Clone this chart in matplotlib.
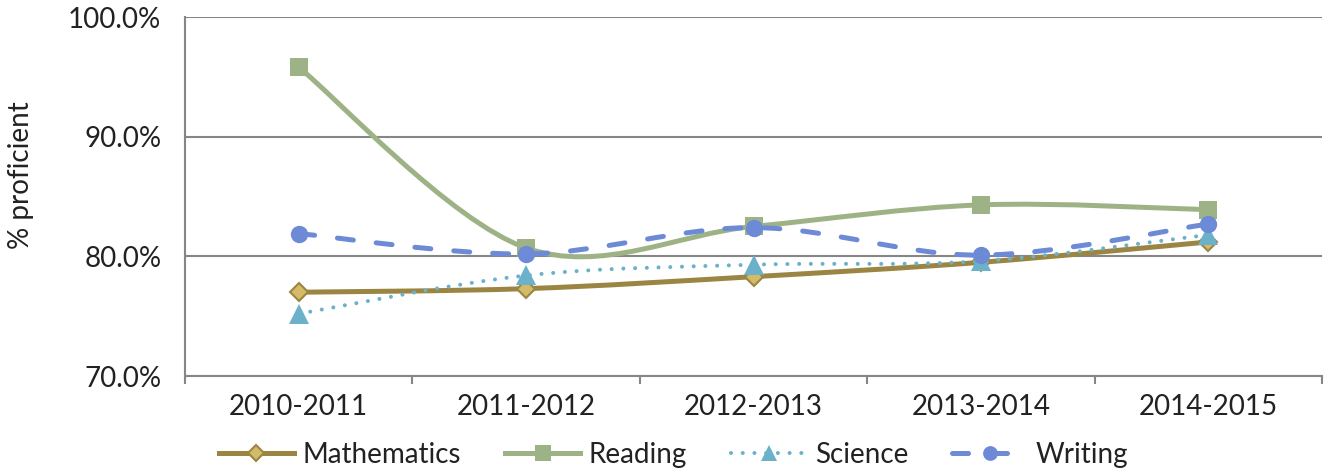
import matplotlib.pyplot as plt
from matplotlib.path import Path
from matplotlib.patches import PathPatch
from matplotlib.lines import Line2D
from matplotlib.ticker import FuncFormatter, FixedLocator

plt.rcParams['font.family'] = ['Lato', 'DejaVu Sans']

# data
years = ["2010-2011", "2011-2012", "2012-2013", "2013-2014", "2014-2015"]
mathematics = [77.0, 77.3, 78.3, 79.5, 81.2]
reading = [95.8, 80.7, 82.5, 84.3, 83.9]
science = [75.2, 78.4, 79.3, 79.6, 81.8]
writing = [81.9, 80.2, 82.4, 80.1, 82.7]


def smooth_path(ys):
    # Excel-like smoothed line: cubic bezier through points (catmull-rom tangents)
    xs = list(range(len(ys)))
    verts = [(xs[0], ys[0])]
    codes = [Path.MOVETO]
    n = len(ys)
    for i in range(n - 1):
        p0 = (xs[max(i - 1, 0)], ys[max(i - 1, 0)])
        p1 = (xs[i], ys[i])
        p2 = (xs[i + 1], ys[i + 1])
        p3 = (xs[min(i + 2, n - 1)], ys[min(i + 2, n - 1)])
        c1 = (p1[0] + (p2[0] - p0[0]) / 6, p1[1] + (p2[1] - p0[1]) / 6)
        c2 = (p2[0] - (p3[0] - p1[0]) / 6, p2[1] - (p3[1] - p1[1]) / 6)
        verts += [c1, c2, p2]
        codes += [Path.CURVE4] * 3
    return Path(verts, codes)


series = [
    ("Mathematics", mathematics, "#9b8542", "-", "D", 9, "#d4bb68", "#9b8542", 1.5),
    ("Reading", reading, "#9db386", "-", "s", 13, "#9db386", "#9db386", 0),
    ("Science", science, "#6bb1ca", (0, (0.01, 2.9)), "^", 14, "#6bb1ca", "#6bb1ca", 0),
    ("Writing", writing, "#6c8ad6", (0, (3.2, 4.6)), "o", 12.5, "#6c8ad6", "#6c8ad6", 0),
]

fig = plt.figure(figsize=(13.26, 4.74), dpi=100)
ax = fig.add_axes([185 / 1326, 98 / 474, 1137 / 1326, 359 / 474])

handles = []
for k, (name, vals, col, ls, mk, ms, mfc, mec, mew) in enumerate(series):
    lw = 2.9 if name == "Science" else 3.6
    patch = PathPatch(smooth_path(vals), fill=False, edgecolor=col, lw=lw,
                      linestyle=ls, capstyle='round', zorder=3 + k)
    ax.add_patch(patch)
    ax.plot(range(len(vals)), vals, linestyle='none', marker=mk, ms=ms,
            mfc=mfc, mec=mec, mew=mew, zorder=3 + k + 0.5)
    handles.append(Line2D([], [], color=col, lw=lw, linestyle=ls,
                          dash_capstyle='round', marker=mk, ms=ms * 0.85,
                          mfc=mfc, mec=mec, mew=mew, label=name))

ax.set_xlim(-0.5, 4.5)
ax.set_ylim(70, 100)
ax.set_yticks([70, 80, 90, 100])
ax.yaxis.set_major_formatter(FuncFormatter(lambda v, p: f"{v:.1f}%"))
ax.grid(axis='y', color='#868686', lw=1.5)
ax.set_axisbelow(True)

ax.xaxis.set_major_locator(FixedLocator([-0.5, 0.5, 1.5, 2.5, 3.5, 4.5]))
ax.xaxis.set_major_formatter(FuncFormatter(lambda v, p: ""))
ax.xaxis.set_minor_locator(FixedLocator(range(len(years))))
ax.set_xticks(range(len(years)), years, minor=True)
ax.tick_params(axis='x', which='major', length=6, width=1.5, color='#868686')
ax.tick_params(axis='x', which='minor', length=0, pad=13, labelsize=20, labelcolor='#222222')
ax.tick_params(axis='y', length=0, pad=17, labelsize=20, labelcolor='#222222')

for s in ['top', 'right']:
    ax.spines[s].set_visible(False)
for s in ['left', 'bottom']:
    ax.spines[s].set_color('#868686')
    ax.spines[s].set_linewidth(1.5)

ax.set_ylabel("% proficient", fontsize=20, color='#222222')
ax.yaxis.set_label_coords(-0.133, 0.56)

fig.legend(handles=handles, loc='lower center', bbox_to_anchor=(0.508, -0.04),
           ncol=4, frameon=False, fontsize=20, handlelength=2.7,
           handletextpad=0.3, columnspacing=1.6, labelcolor='#222222')

fig.savefig("out.png", dpi=100)
